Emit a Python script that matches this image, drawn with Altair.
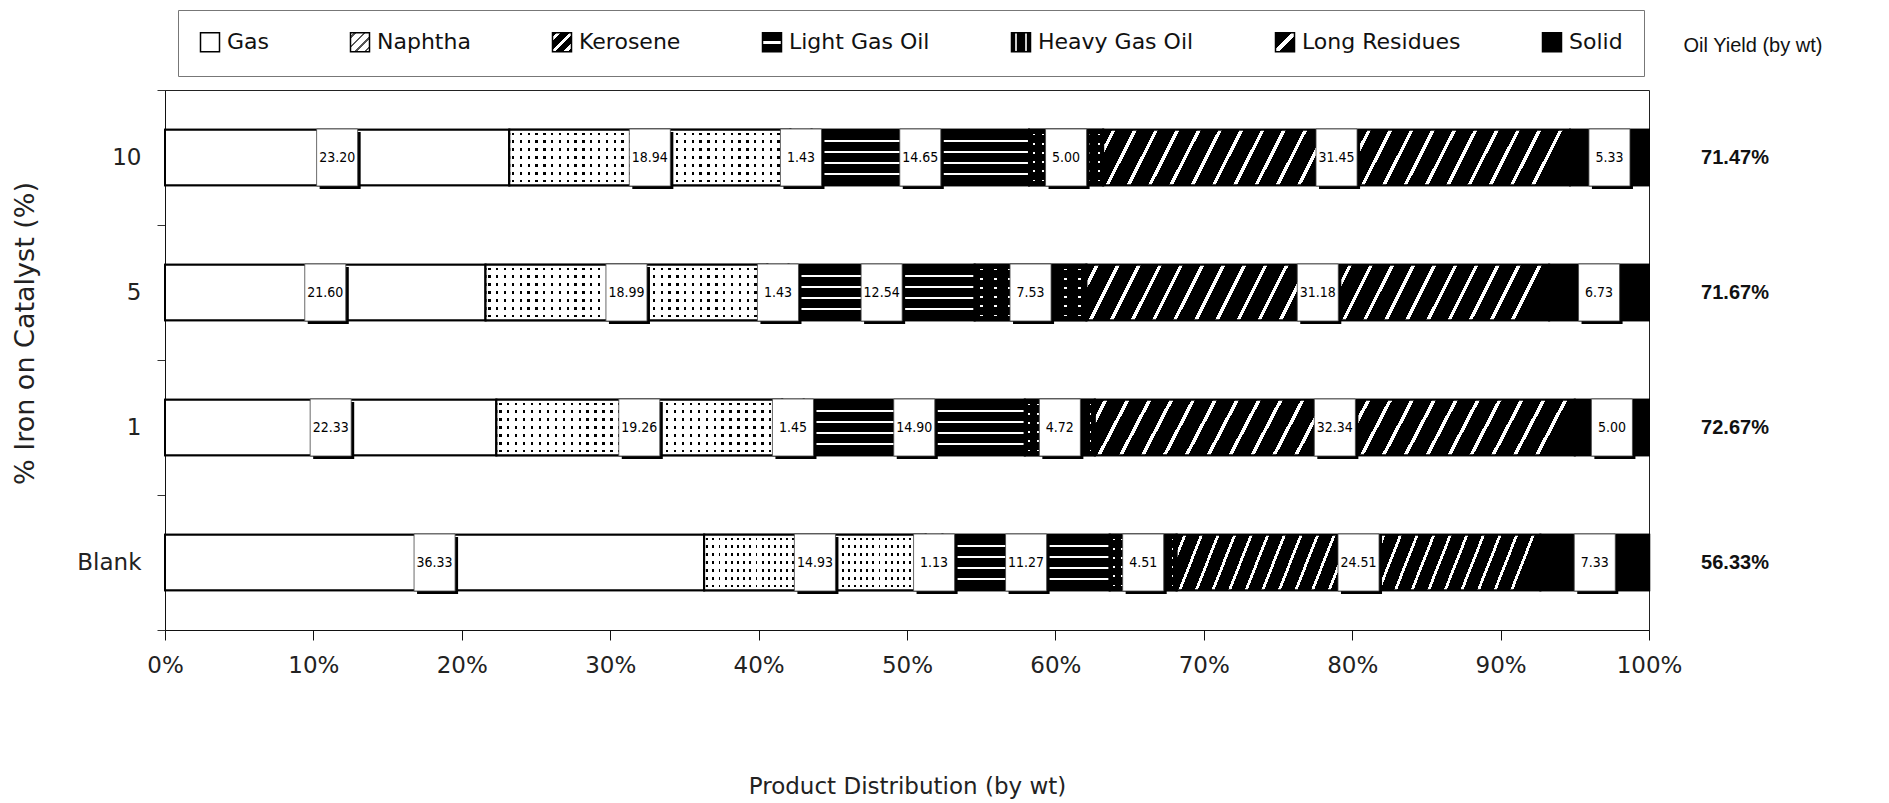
import json
import altair as alt
import pandas as pd

# ---------------- data ----------------
categories = ["10", "5", "1", "Blank"]
products = ["Gas", "Naphtha", "Kerosene", "Light Gas Oil",
            "Heavy Gas Oil", "Long Residues", "Solid"]
gas = [23.20, 21.60, 22.33, 36.33]
naphtha = [18.94, 18.99, 19.26, 14.93]
kerosene = [1.43, 1.43, 1.45, 1.13]
light_gas_oil = [14.65, 12.54, 14.90, 11.27]
heavy_gas_oil = [5.00, 7.53, 4.72, 4.51]
long_residues = [31.45, 31.18, 32.34, 24.51]
solid = [5.33, 6.73, 5.00, 7.33]
oil_yield = ["71.47%", "71.67%", "72.67%", "56.33%"]
x_ticks = [0, 10, 20, 30, 40, 50, 60, 70, 80, 90, 100]

series = [gas, naphtha, kerosene, light_gas_oil, heavy_gas_oil, long_residues, solid]
rows = []
for i, cat in enumerate(categories):
    start = 0.0
    for j, (p, vals) in enumerate(zip(products, series)):
        v = vals[i]
        rows.append({"cat": cat, "product": p, "order": j, "value": v,
                     "start": start, "end": start + v, "mid": start + v / 2})
        start += v
df = pd.DataFrame(rows)
df_yield = pd.DataFrame({"cat": categories, "label": oil_yield})
df_head = pd.DataFrame({"t": ["Oil Yield (by wt)"]})

FONT = "DejaVu Sans"
ARIAL = "Liberation Sans"
NARROW = "DejaVu Sans Condensed, Liberation Sans Narrow, Liberation Sans"
TRANSP = "rgba(255,255,255,0)"


# ---------------- pattern helpers (gradients with hard stops) ----------------
def stripes(n, frac, bg, fg, x2=1, y2=0):
    stops = []
    for k in range(n):
        a = k / n
        c0 = a + (1 - frac) / (2 * n)
        c1 = a + (1 + frac) / (2 * n)
        b = (k + 1) / n
        for off, col in [(a, bg), (c0, bg), (c0, fg), (c1, fg), (c1, bg), (b, bg)]:
            stops.append({"offset": round(min(max(off, 0), 1), 5), "color": col})
    return {"gradient": "linear", "x1": 0, "y1": 0, "x2": x2, "y2": y2, "stops": stops}


def lines_at(positions, half, bg, fg, x2=0, y2=1):
    stops = [{"offset": 0, "color": bg}]
    for p in positions:
        stops += [{"offset": round(p - half, 5), "color": bg},
                  {"offset": round(p - half, 5), "color": fg},
                  {"offset": round(p + half, 5), "color": fg},
                  {"offset": round(p + half, 5), "color": bg}]
    stops.append({"offset": 1, "color": bg})
    return {"gradient": "linear", "x1": 0, "y1": 0, "x2": x2, "y2": y2, "stops": stops}


# legend swatch patterns (small squares), passed to the scale range as expressions
legend_patterns = [
    "white",
    stripes(4, 0.22, "white", "#555", 1, 1),
    stripes(3, 0.35, "black", "white", 1, 1),
    lines_at([0.5], 0.07, "black", "white", 0, 1),
    lines_at([0.25, 0.75], 0.06, "black", "#ccc", 1, 0),
    lines_at([0.5], 0.08, "black", "white", 1, 1),
    "black",
]
legend_colors = ["#ffffff", "#d4d4d4", "#6a6a6a", "#262626", "#1a1a1a", "#3a3a3a", "#000000"]
pattern_range = [g if isinstance(g, str) else {"expr": json.dumps(g)} for g in legend_patterns]

BAND = {"band": 0.41}
base = alt.Chart(df)

X = alt.X("start:Q",
          scale=alt.Scale(domain=[0, 100], nice=False, zero=True),
          axis=alt.Axis(values=x_ticks, labelExpr="datum.value + '%'",
                        tickSize=10, labelPadding=14, labelFontSize=23,
                        labelFlush=False, labelOverlap=False, grid=False,
                        labelColor="#222", tickColor="#111", domainColor="#111",
                        title="Product Distribution (by wt)", titleFontSize=23,
                        titleFontWeight="normal", titleColor="#222",
                        titleY=156, titleBaseline="middle"))
Y = alt.Y("cat:N", sort=categories,
          scale=alt.Scale(paddingInner=0, paddingOuter=0),
          axis=alt.Axis(tickBand="extent", tickSize=8, labelPadding=16,
                        labelFontSize=23, labelColor="#222", tickColor="#333",
                        domainColor="#111", grid=False,
                        title="% Iron on Catalyst (%)", titleFontSize=27,
                        titleFontWeight="normal", titleColor="#222",
                        titleAngle=-90, titleX=-140, titleY=243,
                        titleAlign="center", titleBaseline="middle"))

legend = alt.Legend(orient="none", legendX=13, legendY=-80,
                    direction="horizontal", title=None,
                    symbolType="square", symbolSize=361,
                    symbolStrokeColor="black", symbolStrokeWidth=1.5,
                    labelFontSize=22, labelFont=FONT, labelColor="#111",
                    labelOffset=6, columnPadding=78, padding=21,
                    strokeColor="#777", labelLimit=300)


def seg(product, fill, stroke=True):
    kw = dict(fill=fill, height=BAND)
    if stroke:
        kw.update(stroke="black", strokeWidth=2)
    return base.transform_filter(alt.datum.product == product).mark_bar(**kw).encode(
        x="start:Q", x2="end:Q", y=alt.Y("cat:N", sort=categories))


BOX = "M-0.72,-1H0.72V1H-0.72Z"


def build(rng):
    legend_layer = base.mark_bar(stroke="black", strokeWidth=2, height=BAND).encode(
        x=X, x2="end:Q", y=Y,
        fill=alt.Fill("product:N",
                      scale=alt.Scale(domain=products, range=rng),
                      legend=legend),
    )
    layers = [legend_layer,
              seg("Gas", "white"),
              seg("Naphtha", stripes(36, 0.3, "white", "black", 1, 0)),
              seg("Naphtha", stripes(7, 0.3, "white", TRANSP, 0, 1)),
              seg("Kerosene", stripes(4, 0.5, "white", "black", 1, 0.3)),
              seg("Light Gas Oil", lines_at([0.2, 0.4, 0.6, 0.8], 0.017, "black", "white")),
              seg("Heavy Gas Oil", stripes(8, 0.22, "black", "white", 1, 0)),
              seg("Heavy Gas Oil", stripes(6, 0.2, "black", TRANSP, 0, 1)),
              seg("Long Residues", stripes(22, 0.18, "black", "white", 1, 0.06)),
              seg("Solid", "black")]
    shadow = base.mark_point(shape=BOX, size=3249, filled=True, color="black",
                             opacity=1, xOffset=3, yOffset=3).encode(
        x="mid:Q", y=alt.Y("cat:N", sort=categories))
    box = base.mark_point(shape=BOX, size=3249, filled=True, fill="white",
                          stroke="#444", strokeWidth=0.8, opacity=1).encode(
        x="mid:Q", y=alt.Y("cat:N", sort=categories))
    labels = base.mark_text(font=NARROW, fontSize=14, color="black",
                            align="center", baseline="middle").encode(
        x="mid:Q", y=alt.Y("cat:N", sort=categories),
        text=alt.Text("value:Q", format=".2f"))
    yields = alt.Chart(df_yield).mark_text(font=ARIAL, fontSize=20, fontWeight="bold",
                                           color="#111", align="center",
                                           baseline="middle").encode(
        x=alt.value(1570), y=alt.Y("cat:N", sort=categories), text="label:N")
    header = alt.Chart(df_head).mark_text(font=ARIAL, fontSize=20, color="#111",
                                          align="center", baseline="middle").encode(
        x=alt.value(1588), y=alt.value(-44), text="t:N")
    return alt.layer(*layers, shadow, box, labels, yields, header).properties(
        width=1484, height=540, autosize="none",
        padding={"left": 157, "top": 82, "right": 200, "bottom": 170},
    ).configure(font=FONT).configure_view(stroke="#222", strokeWidth=1).configure_axis(
        labelFont=FONT, titleFont=FONT)


try:
    chart = build(pattern_range)
    chart.to_dict()
except Exception:
    chart = build(legend_colors)

chart.save("out.html", embed_options={"renderer": "svg", "actions": False})
